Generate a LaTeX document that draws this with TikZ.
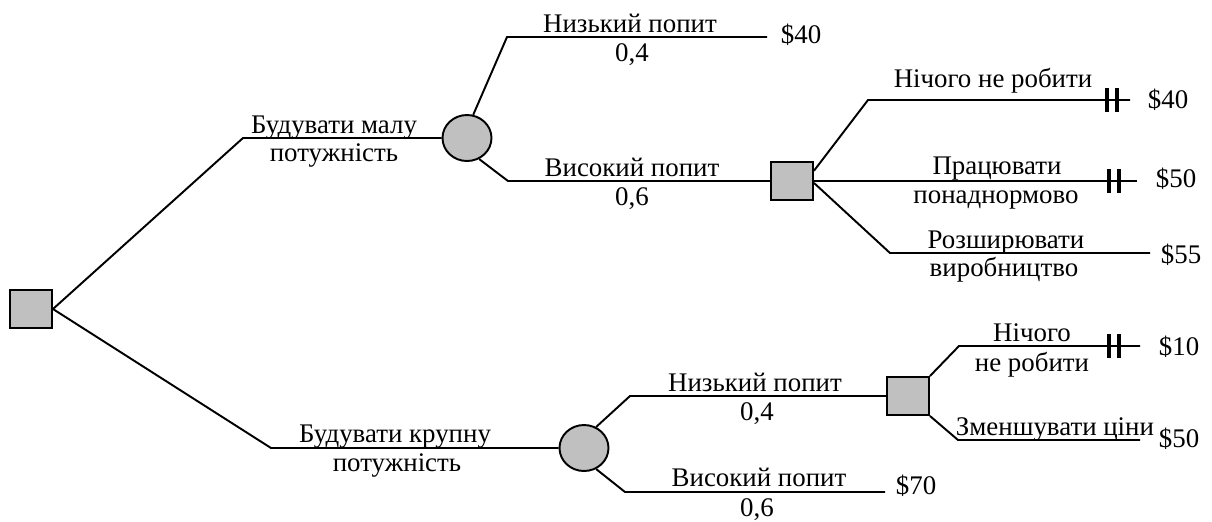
\documentclass[tikz,border=0pt]{standalone}
\usepackage{fontspec}
\setmainfont{Liberation Serif}
\usetikzlibrary{shapes.geometric}
\definecolor{nodegray}{HTML}{C0C0C0}
\tikzset{
  choice/.style={draw, fill=nodegray, minimum width=0.84cm, minimum height=0.76cm, inner sep=0pt},
  chance/.style={ellipse, draw, fill=nodegray, minimum width=0.98cm, minimum height=0.92cm, inner sep=0pt},
  lbl/.style={anchor=base, inner sep=0pt},
  payoff/.style={anchor=west, inner sep=0pt},
  cut/.pic={\draw[line width=2.2pt] (-5,-12) -- (-5,12) (5,-12) -- (5,12);}
}
\begin{document}
\begin{tikzpicture}[x=0.2mm, y=-0.2mm, line width=1.1pt, font=\fontsize{15.3}{18}\selectfont]
  \useasboundingbox (0,0) rectangle (1212,521);
  % decision squares and chance circles
  \node[choice] (d0) at (31,309) {};
  \node[chance] (c1) at (467,138) {};
  \node[choice] (d1) at (792,181) {};
  \node[chance] (c2) at (584,448) {};
  \node[choice] (d2) at (908,396) {};
  % bends and loose ends of the branches
  \coordinate (k1) at (243,138);
  \coordinate (k2) at (507,37);   \coordinate (e2) at (767,37);
  \coordinate (k3) at (508,181);
  \coordinate (k4) at (868,100);  \coordinate (e4) at (1130,100);
  \coordinate (e5) at (1137,181);
  \coordinate (k6) at (890,253);  \coordinate (e6) at (1150,253);
  \coordinate (k7) at (271,448);
  \coordinate (k8) at (630,396);
  \coordinate (k9) at (625,492);  \coordinate (e9) at (885,492);
  \coordinate (k10) at (959,346); \coordinate (e10) at (1140,346);
  \coordinate (k11) at (958,440); \coordinate (e11) at (1140,440);
  % branches
  \draw (d0.east) -- (k1) -- (c1.west);
  \draw (d0.east) -- (k7) -- (c2.west);
  \draw (c1.75) -- (k2) -- (e2);
  \draw (c1.-60) -- (k3) -- (d1.west);
  \draw (d1.25) -- (k4) -- (e4);
  \draw (d1.east) -- (e5);
  \draw (d1.-5) -- (k6) -- (e6);
  \draw (c2.60) -- (k8) -- (d2.west);
  \draw (c2.-60) -- (k9) -- (e9);
  \draw (d2.north east) -- (k10) -- (e10);
  \draw (d2.south east) -- (k11) -- (e11);
  % cut-off marks on dropped options
  \pic at (1112,100) {cut};
  \pic at (1114,181) {cut};
  \pic at (1114,346) {cut};
  % branch labels
  \node[lbl] (t1)  at (334,133) {Будувати малу};
  \node[lbl] (t1b) at (334,161) {потужність};
  \node[lbl] (t2)  at (630,32)  {Низький попит};
  \node[lbl] (t2b) at (632,61)  {0,4};
  \node[lbl] (t3)  at (632,176) {Високий попит};
  \node[lbl] (t3b) at (632,205) {0,6};
  \node[lbl] (t4)  at (993,87)  {Нічого не робити};
  \node[lbl] (t5)  at (997,174) {Працювати};
  \node[lbl] (t5b) at (996,203) {понаднормово};
  \node[lbl] (t6)  at (1006,248) {Розширювати};
  \node[lbl] (t6b) at (1004,276) {виробництво};
  \node[lbl] (t7)  at (395,442) {Будувати крупну};
  \node[lbl] (t7b) at (397,471) {потужність};
  \node[lbl] (t8)  at (755,391) {Низький попит};
  \node[lbl] (t8b) at (757,420) {0,4};
  \node[lbl] (t9)  at (759,486) {Високий попит};
  \node[lbl] (t9b) at (757,516) {0,6};
  \node[lbl] (t10)  at (1032,341) {Нічого};
  \node[lbl] (t10b) at (1032,371) {не робити};
  \node[lbl] (t11)  at (1055,435) {Зменшувати ціни};
  % payoffs
  \node[payoff] (p2)  at (780,35)   {\$40};
  \node[payoff] (p4)  at (1147,100) {\$40};
  \node[payoff] (p5)  at (1155,179) {\$50};
  \node[payoff] (p6)  at (1160,255) {\$55};
  \node[payoff] (p9)  at (895,486)  {\$70};
  \node[payoff] (p10) at (1158,347) {\$10};
  \node[payoff] (p11) at (1158,439) {\$50};
\end{tikzpicture}
\end{document}
